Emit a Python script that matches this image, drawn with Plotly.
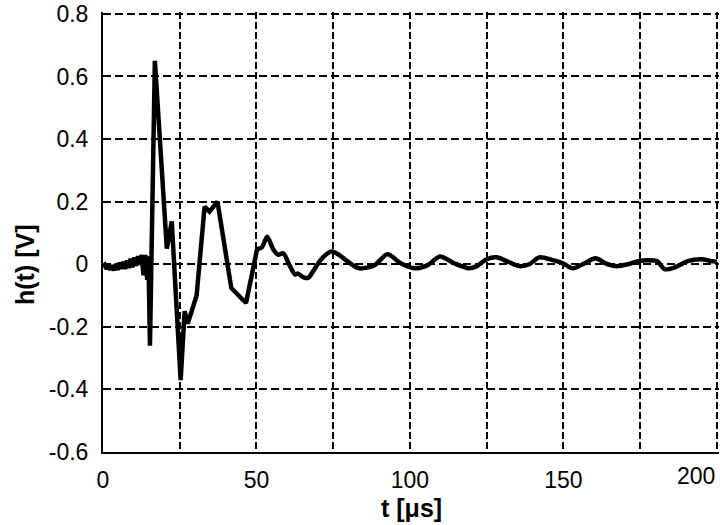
import plotly.graph_objects as go

# ---- data ----
# sharp early part of the response
t_early = [0.0, 0.6, 1.2, 1.8, 2.4, 3.0, 3.6, 4.2, 4.8, 5.4, 6.0, 6.6, 7.2, 7.8, 8.4,
           9.0, 9.6, 10.2, 10.8, 11.4, 12.0, 12.6, 13.2, 13.8, 14.4, 14.8, 15.3,
           16.9, 20.8, 22.4, 25.3, 26.6, 27.6, 30.5, 33.1, 34.7, 37.3, 41.8, 46.6,
           50.2]
h_early = [-0.010, -0.003, -0.015, -0.002, -0.018, -0.003, -0.020, 0.000, -0.018, 0.005,
           -0.015, 0.008, -0.015, 0.012, -0.012, 0.018, -0.010, 0.022, -0.005, 0.026,
           -0.002, 0.030, -0.035, 0.030, -0.050, 0.025, -0.260,
           0.650, 0.050, 0.137, -0.370, -0.150, -0.190, -0.100, 0.184, 0.168, 0.200,
           -0.076, -0.124, 0.048]
# smoothly ringing tail
t_tail = [50.2, 51.8, 53.5, 55.5, 57.1, 58.7, 60.9, 62.6, 63.5, 65.2, 66.8, 68.5,
          71.1, 74.4, 76.9, 79.8, 83.4, 88.5, 92.7, 97.0, 101.5, 105.8, 109.8,
          114.4, 119.2, 121.8, 125.0, 128.2, 131.5, 135.6, 138.9, 142.1, 146.6,
          149.8, 153.1, 156.3, 160.5, 163.7, 167.0, 171.1, 174.4, 177.6, 180.5,
          183.1, 186.3, 190.5, 195.0, 198.2, 200.0]
h_tail = [0.048, 0.055, 0.088, 0.047, 0.030, 0.035, -0.006, -0.033,
          -0.030, -0.041, -0.044, -0.022, 0.016, 0.041, 0.030, 0.008, -0.013, -0.003,
          0.032, 0.003, -0.013, -0.003, 0.025, 0.003, -0.013, -0.006, 0.016, 0.022,
          0.010, -0.006, 0.000, 0.022, 0.013, 0.003, -0.013, 0.000, 0.019, 0.003,
          -0.006, 0.000, 0.010, 0.013, 0.010, -0.016, -0.010, 0.010, 0.016, 0.010, 0.008]

x_tickvals = [0, 25, 50, 75, 100, 125, 150, 175, 200]
x_ticktext = ["0", "", "50", "", "100", "", "150", "", ""]
y_tickvals = [-0.6, -0.4, -0.2, 0, 0.2, 0.4, 0.6, 0.8]
y_ticktext = ["-0.6", "-0.4", "-0.2", "0", "0.2", "0.4", "0.6", "0.8"]
x_title = "t [μs]"
y_title = "h(t) [V]"

FONT = "Liberation Sans, Arial, sans-serif"

fig = go.Figure()
fig.add_trace(go.Scatter(x=t_early, y=h_early, mode="lines",
                         line=dict(color="black", width=4.5),
                         showlegend=False, hoverinfo="skip"))
fig.add_trace(go.Scatter(x=t_tail, y=h_tail, mode="lines",
                         line=dict(color="black", width=4.5, shape="spline", smoothing=0.8),
                         showlegend=False, hoverinfo="skip"))

fig.update_layout(
    width=720, height=525,
    margin=dict(l=103, r=1, t=12, b=73),
    paper_bgcolor="white", plot_bgcolor="white",
    font=dict(family=FONT, size=23, color="black"),
    showlegend=False,
)
fig.update_xaxes(
    range=[0, 200.7], tickmode="array", tickvals=x_tickvals, ticktext=x_ticktext,
    showgrid=True, gridcolor="black", gridwidth=1.6, griddash="7px,3px",
    showline=True, linecolor="black", linewidth=2, mirror=False,
    zeroline=False, ticks="", ticklabelstandoff=6, ticklabeloverflow="allow",
    tickfont=dict(family=FONT, size=23, color="black"), automargin=False,
)
fig.update_yaxes(
    range=[-0.6, 0.806], tickmode="array", tickvals=y_tickvals, ticktext=y_ticktext,
    showgrid=True, gridcolor="black", gridwidth=2.2, griddash="8px,4px",
    showline=True, linecolor="black", linewidth=2, mirror=False,
    zeroline=False, ticks="", ticklabelstandoff=8, ticklabeloverflow="allow",
    tickfont=dict(family=FONT, size=23, color="black"), automargin=False,
)

fig.add_annotation(text="200", xref="x", yref="paper", x=200, y=0,
                   xanchor="right", yanchor="top", yshift=-9, showarrow=False,
                   font=dict(family=FONT, size=23, color="black"))
fig.add_annotation(text="<b>" + x_title + "</b>", xref="paper", yref="paper",
                   x=0.5, y=-0.128, xanchor="center", yanchor="middle",
                   showarrow=False, font=dict(family=FONT, size=25, color="black"))
fig.add_annotation(text="<b>" + y_title + "</b>", xref="paper", yref="y",
                   x=-0.127, y=0, xanchor="center", yanchor="middle", textangle=-90,
                   showarrow=False, font=dict(family=FONT, size=25, color="black"))

fig.write_html("out.html", config={"displayModeBar": False},
               post_script="document.body.style.margin='0';document.body.style.padding='0';")
